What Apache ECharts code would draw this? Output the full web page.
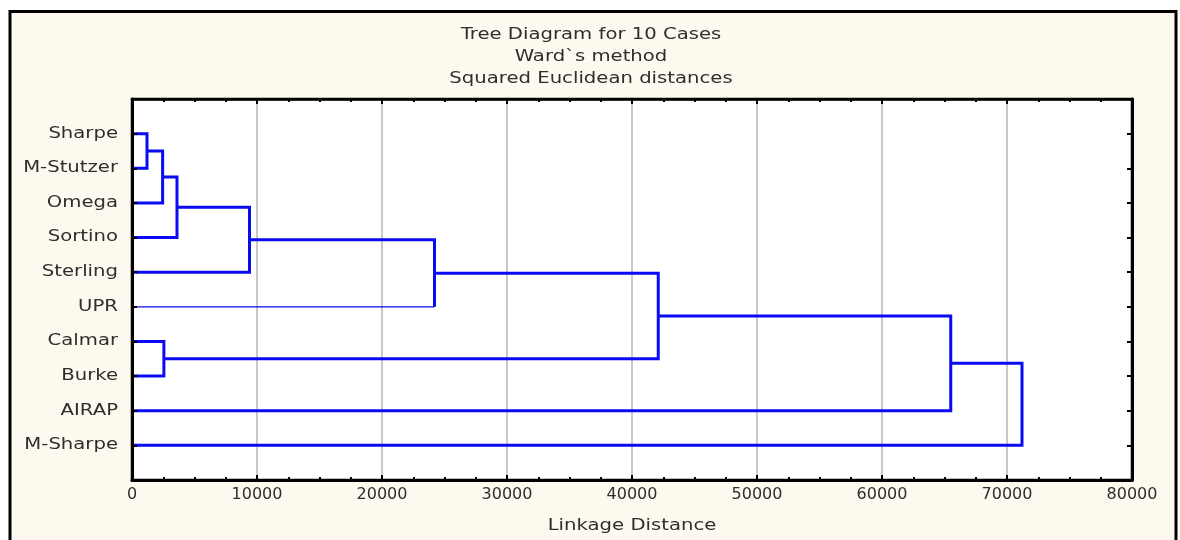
<!DOCTYPE html>
<html>
<head>
<meta charset="utf-8">
<script src="https://cdn.jsdelivr.net/npm/echarts@6/dist/echarts.min.js"></script>
<style>
html,body{margin:0;padding:0;background:#fff;}
#chart{width:1180px;height:540px;}
</style>
</head>
<body>
<div id="chart"></div>
<script>
// ---- data ----
const categories = ['Sharpe','M-Stutzer','Omega','Sortino','Sterling','UPR','Calmar','Burke','AIRAP','M-Sharpe'];
// linkage: node ids < 10 are cases, >= 10 are clusters formed by earlier merges
const mergeLeft   = [0, 10, 11, 12, 13, 6, 14, 16, 17];
const mergeRight  = [1, 2, 3, 4, 5, 7, 15, 8, 9];
const mergeHeight = [1200, 2450, 3600, 9400, 24200, 2550, 42100, 65500, 71200];
const titleLines  = ['Tree Diagram for 10 Cases', "Ward`s method", 'Squared Euclidean distances'];
const xAxisName   = 'Linkage Distance';

// ---- build dendrogram links ----
const FONT = 'DejaVu Sans';
const TXT = '#2e2e2e';
const STRETCH = 1.31;
const BLUE = '#0a0af5';
const n = categories.length;
const nodeY = [], nodeH = [];
for (let i = 0; i < n; i++) { nodeY[i] = i + 1; nodeH[i] = 0; }
const series = [];
function seg(pts, w) {
  series.push({
    type: 'line', data: pts, symbol: 'none', animation: false, silent: true,
    xAxisIndex: 0, yAxisIndex: 0, z: 3,
    lineStyle: { color: BLUE, width: w, cap: 'butt', join: 'miter' }
  });
}
mergeLeft.forEach((a, k) => {
  const b = mergeRight[k], h = mergeHeight[k], id = n + k;
  nodeY[id] = (nodeY[a] + nodeY[b]) / 2;
  nodeH[id] = h;
  const thinA = categories[a] === 'UPR', thinB = categories[b] === 'UPR';
  if (!thinA && !thinB) {
    seg([[nodeH[a], nodeY[a]], [h, nodeY[a]], [h, nodeY[b]], [nodeH[b], nodeY[b]]], 3);
  } else if (thinB) {
    seg([[nodeH[a], nodeY[a]], [h, nodeY[a]], [h, nodeY[b]]], 3);
    seg([[h, nodeY[b]], [nodeH[b], nodeY[b]]], 1.2);
  } else {
    seg([[h, nodeY[a]], [h, nodeY[b]], [nodeH[b], nodeY[b]]], 3);
    seg([[nodeH[a], nodeY[a]], [h, nodeY[a]]], 1.2);
  }
});

function stretchedText(text, x, y, align, size) {
  return {
    type: 'text', x: x, y: y, scaleX: STRETCH, silent: true, z: 10,
    style: {
      text: text, fill: TXT, font: size + 'px "' + FONT + '"',
      align: align, verticalAlign: 'middle',
      textAlign: align, textVerticalAlign: 'middle'
    }
  };
}

const chart = echarts.init(document.getElementById('chart'), null, { renderer: 'canvas' });
const tickStyle = { color: '#000', width: 2 };
const frame = {
  type: 'rect', z: -100, silent: true,
  shape: { x: 10, y: 11.5, width: 1166, height: 560 },
  style: { fill: '#fdf9ee', stroke: '#000', lineWidth: 3 }
};
const option = {
  animation: false,
  backgroundColor: '#ffffff',
  graphic: [frame],
  grid: {
    left: 132, right: 48, top: 99, bottom: 60,
    show: true, backgroundColor: '#fff', borderColor: '#000', borderWidth: 2.5
  },
  xAxis: [{
    type: 'value', position: 'bottom', min: 0, max: 80000, interval: 10000,
    axisLine: { show: true, onZero: false, lineStyle: { color: '#000', width: 3 } },
    axisTick: { show: true, inside: true, length: 5, lineStyle: tickStyle },
    minorTick: { show: true, splitNumber: 4, length: 3, lineStyle: tickStyle },
    axisLabel: { fontFamily: FONT, fontSize: 16, color: TXT, margin: 7, formatter: v => String(v) },
    splitLine: { show: true, lineStyle: { color: '#c8c8c8', width: 2 } }
  }, {
    type: 'value', position: 'top', min: 0, max: 80000, interval: 10000,
    axisLine: { show: true, onZero: false, lineStyle: { color: '#000', width: 2.5 } },
    axisTick: { show: true, inside: true, length: 5, lineStyle: tickStyle },
    minorTick: { show: true, splitNumber: 4, length: 3, lineStyle: tickStyle },
    axisLabel: { show: false },
    splitLine: { show: false }
  }],
  yAxis: [{
    type: 'value', position: 'left', min: 0, max: n + 1, interval: 1, inverse: true, z: 6,
    axisLine: { show: true, onZero: false, lineStyle: { color: '#000', width: 3 } },
    axisTick: { show: true, inside: true, length: 5, lineStyle: tickStyle },
    axisLabel: { show: false },
    splitLine: { show: false }
  }, {
    type: 'value', position: 'right', min: 0, max: n + 1, interval: 1, inverse: true, z: 6,
    axisLine: { show: true, onZero: false, lineStyle: { color: '#000', width: 3 } },
    axisTick: { show: true, inside: true, length: 5, lineStyle: tickStyle },
    axisLabel: { show: false },
    splitLine: { show: false }
  }],
  series: series
};
chart.setOption(option);

// text placed through the axes' own scales
const gx0 = chart.convertToPixel({ xAxisIndex: 0 }, 0);
const gxMid = chart.convertToPixel({ xAxisIndex: 0 }, 40000);
const gyTop = chart.convertToPixel({ yAxisIndex: 0 }, 0);
const gyBot = chart.convertToPixel({ yAxisIndex: 0 }, n + 1);
const texts = [frame];
titleLines.forEach((t, i) => texts.push(stretchedText(t, 591, gyTop - 64 + i * 22, 'center', 15)));
categories.forEach((c, i) => {
  texts.push(stretchedText(c, gx0 - 14, chart.convertToPixel({ yAxisIndex: 0 }, i + 1), 'right', 15));
});
texts.push(stretchedText(xAxisName, gxMid, gyBot + 46, 'center', 15));
chart.setOption({ graphic: texts }, { replaceMerge: ['graphic'] });
</script>
</body>
</html>
